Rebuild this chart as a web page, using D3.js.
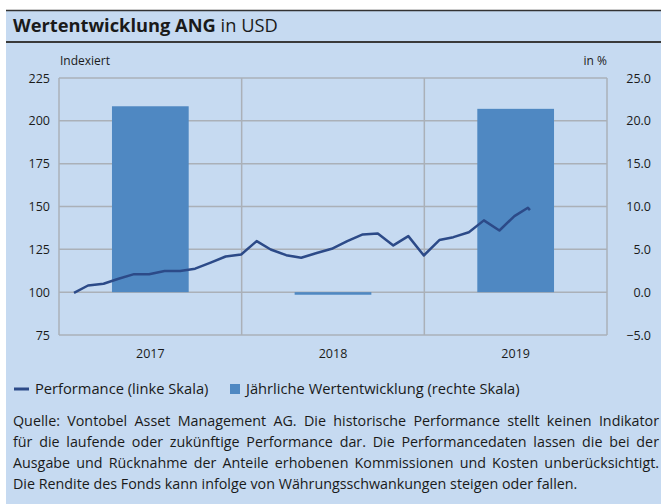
<!DOCTYPE html>
<html>
<head>
<meta charset="utf-8">
<script src="https://cdn.jsdelivr.net/npm/d3@7"></script>
<style>
  body { margin: 0; background: #fff; }
  text { font-family: "Open Sans", sans-serif; fill: #1a1a1a; }
</style>
</head>
<body>
<div id="chart"></div>
<script>
// Years and yearly performance in % (right axis)
const years = ["2017", "2018", "2019"];
const yearlyPerf = [21.7, -0.3, 21.4];

// Month-end index values (left axis)
const perfDates = [
  "2017-01-31", "2017-02-28", "2017-03-31", "2017-04-30", "2017-05-31", "2017-06-30",
  "2017-07-31", "2017-08-31", "2017-09-30", "2017-10-31", "2017-11-30", "2017-12-31",
  "2018-01-31", "2018-02-28", "2018-03-31", "2018-04-30", "2018-05-31", "2018-06-30",
  "2018-07-31", "2018-08-31", "2018-09-30", "2018-10-31", "2018-11-30", "2018-12-31",
  "2019-01-31", "2019-02-28", "2019-03-31", "2019-04-30", "2019-05-31", "2019-06-30",
  "2019-07-27", "2019-07-31"
];
const perfValues = [
  99.6, 103.9, 104.9, 107.8, 110.5, 110.5,
  112.3, 112.3, 113.7, 117.2, 120.8, 122.0,
  129.8, 124.9, 121.6, 120.1, 122.9, 125.3,
  129.8, 133.7, 134.3, 127.3, 132.7, 121.4,
  130.4, 132.1, 135.0, 141.9, 136.0, 144.4,
  149.3, 147.9
];

// Axis ticks
const leftTicks = [75, 100, 125, 150, 175, 200, 225];
const rightTicks = [-5, 0, 5, 10, 15, 20, 25];

const footnote = [
  "Quelle: Vontobel Asset Management AG. Die historische Performance stellt keinen Indikator",
  "für die laufende oder zukünftige Performance dar. Die Performancedaten lassen die bei der",
  "Ausgabe und Rücknahme der Anteile erhobenen Kommissionen und Kosten unberücksichtigt.",
  "Die Rendite des Fonds kann infolge von Währungsschwankungen steigen oder fallen."
];

const width = 661;
const height = 504;
const plot = { left: 59, right: 607, top: 78, bottom: 335 };

const bg = "#c6daf1";
const gridColor = "#aab0b8";
const barColor = "#4f88c2";
const lineColor = "#2c4a88";

const svg = d3.select("#chart")
  .append("svg")
  .attr("width", width)
  .attr("height", height);

// Panel background
svg.append("rect")
  .attr("x", 6).attr("y", 10)
  .attr("width", width - 6).attr("height", height - 10)
  .attr("fill", bg);

// Header lines
svg.append("line")
  .attr("x1", 6).attr("x2", width).attr("y1", 10.5).attr("y2", 10.5)
  .attr("stroke", "#333").attr("stroke-width", 1.3);
svg.append("line")
  .attr("x1", 6).attr("x2", width).attr("y1", 42).attr("y2", 42)
  .attr("stroke", "#3a3a3a").attr("stroke-width", 2);

// Title
const title = svg.append("text")
  .attr("x", 13).attr("y", 32)
  .style("font-size", "18.3px");
title.append("tspan").style("font-weight", "bold").text("Wertentwicklung ANG");
title.append("tspan").text(" in USD");

// Scales
const yLeft = d3.scaleLinear().domain([75, 225]).range([plot.bottom, plot.top]);
const yRight = d3.scaleLinear().domain([-5, 25]).range([plot.bottom, plot.top]);
const xBand = d3.scaleBand().domain(years).range([plot.left, plot.right]).padding(0);
const xTime = d3.scaleTime()
  .domain([new Date(2017, 0, 1), new Date(2020, 0, 1)])
  .range([plot.left, plot.right]);

// Horizontal gridlines
svg.append("g")
  .selectAll("line")
  .data(leftTicks)
  .enter()
  .append("line")
  .attr("x1", plot.left).attr("x2", plot.right)
  .attr("y1", (d) => yLeft(d)).attr("y2", (d) => yLeft(d))
  .attr("stroke", gridColor).attr("stroke-width", 1.5);

// Vertical gridlines (year boundaries + frame)
const vLines = years.map((y) => xBand(y)).concat([plot.right]);
svg.append("g")
  .selectAll("line")
  .data(vLines)
  .enter()
  .append("line")
  .attr("x1", (d) => d).attr("x2", (d) => d)
  .attr("y1", plot.top).attr("y2", plot.bottom)
  .attr("stroke", gridColor).attr("stroke-width", 1.5);

// Bars (right scale)
const barW = xBand.bandwidth() * 0.42;
svg.append("g")
  .selectAll("rect")
  .data(years)
  .enter()
  .append("rect")
  .attr("x", (d) => xBand(d) + (xBand.bandwidth() - barW) / 2)
  .attr("y", (d, i) => yRight(Math.max(0, yearlyPerf[i])))
  .attr("width", barW)
  .attr("height", (d, i) => Math.abs(yRight(yearlyPerf[i]) - yRight(0)))
  .attr("fill", barColor);

// Performance line (left scale)
const parse = d3.timeParse("%Y-%m-%d");
const lineData = perfDates.map((d, i) => ({ date: parse(d), value: perfValues[i] }));
svg.append("path")
  .datum(lineData)
  .attr("fill", "none")
  .attr("stroke", lineColor)
  .attr("stroke-width", 2.5)
  .attr("stroke-linejoin", "round")
  .attr("d", d3.line().x((d) => xTime(d.date)).y((d) => yLeft(d.value)));

// Left axis labels
svg.append("g")
  .selectAll("text")
  .data(leftTicks)
  .enter()
  .append("text")
  .attr("x", 50)
  .attr("y", (d) => yLeft(d) + 4.5)
  .attr("text-anchor", "end")
  .style("font-size", "12.5px")
  .text((d) => d);

// Right axis labels
svg.append("g")
  .selectAll("text")
  .data(rightTicks)
  .enter()
  .append("text")
  .attr("x", 651)
  .attr("y", (d) => yRight(d) + 4.5)
  .attr("text-anchor", "end")
  .style("font-size", "12.5px")
  .text((d) => d3.format(".1f")(d));

// Year labels
svg.append("g")
  .selectAll("text")
  .data(years)
  .enter()
  .append("text")
  .attr("x", (d) => xBand(d) + xBand.bandwidth() / 2)
  .attr("y", 358)
  .attr("text-anchor", "middle")
  .style("font-size", "12.5px")
  .text((d) => d);

// Axis titles
svg.append("text").attr("x", 60).attr("y", 65).style("font-size", "12px").text("Indexiert");
svg.append("text").attr("x", 607).attr("y", 65).attr("text-anchor", "end")
  .style("font-size", "12px").text("in %");

// Legend
svg.append("line")
  .attr("x1", 14).attr("x2", 29).attr("y1", 389).attr("y2", 389)
  .attr("stroke", lineColor).attr("stroke-width", 3);
svg.append("text").attr("x", 35).attr("y", 394).style("font-size", "14.7px")
  .text("Performance (linke Skala)");
svg.append("rect")
  .attr("x", 230).attr("y", 384).attr("width", 10).attr("height", 10)
  .attr("fill", barColor);
svg.append("text").attr("x", 246).attr("y", 394).style("font-size", "14.7px")
  .text("Jährliche Wertentwicklung (rechte Skala)");

// Footnote, justified except the last line
footnote.forEach((line, i) => {
  const t = svg.append("text")
    .attr("x", 13)
    .attr("y", 426 + i * 21)
    .style("font-size", "14.3px")
    .text(line);
  if (i < footnote.length - 1) {
    const natural = t.node().getComputedTextLength();
    const spaces = line.split(" ").length - 1;
    const extra = (659 - 13 - natural) / spaces;
    t.style("word-spacing", extra + "px");
  }
});
</script>
</body>
</html>
